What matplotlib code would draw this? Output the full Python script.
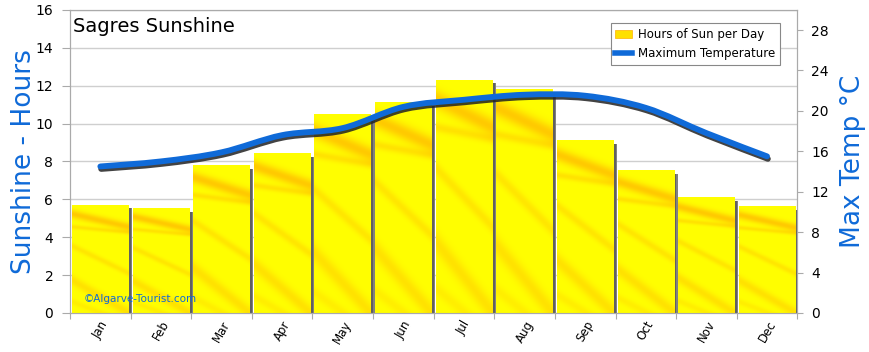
import numpy as np
import matplotlib
matplotlib.use('Agg')
import matplotlib.pyplot as plt
from matplotlib.path import Path
from matplotlib.patches import PathPatch, Rectangle, Patch
from matplotlib.lines import Line2D
import matplotlib.patheffects as pe

months = ['Jan', 'Feb', 'Mar', 'Apr', 'May', 'Jun', 'Jul', 'Aug', 'Sep', 'Oct', 'Nov', 'Dec']
sun_hours = [5.7, 5.5, 7.8, 8.4, 10.5, 11.1, 12.3, 11.8, 9.1, 7.5, 6.1, 5.6]
max_temp = [14.5, 15.0, 15.9, 17.6, 18.3, 20.4, 21.1, 21.6, 21.5, 20.3, 17.8, 15.5]

plt.rcParams['font.family'] = ['DejaVu Sans']
blue = '#0f6ad8'

fig = plt.figure(figsize=(8.7, 3.52), dpi=100)
ax = fig.add_axes([0.0805, 0.111, 0.836, 0.861])
ax2 = ax.twinx()

# streaky yellow texture for bars
ty, tx = np.mgrid[0:1:120j, 0:1:40j]
band = (0.65 * np.exp(-((ty - 0.92 + 0.12 * tx) / 0.04) ** 2)
        + 0.35 * np.exp(-((ty - 0.80 + 0.05 * tx) / 0.02) ** 2)
        + 0.30 * np.exp(-((ty - 0.62 + 0.25 * tx) / 0.03) ** 2)
        + 0.35 * np.exp(-((ty - 0.30 + 0.30 * tx) / 0.05) ** 2)
        + 0.20 * np.exp(-((ty - 0.10 + 0.20 * tx) / 0.03) ** 2))
band = np.clip(band, 0, 1)
tex = np.zeros(band.shape + (3,))
tex[..., 0] = 1.0
tex[..., 1] = 1.0 - 0.32 * band
tex[..., 2] = 0.0

for i, h in enumerate(sun_hours):
    # gray shadow on the right side
    ax.add_patch(Rectangle((i + 0.955, 0), 0.07, h - 0.18, facecolor='#808080',
                           edgecolor='none', zorder=2))
    ax.add_patch(Rectangle((i + 0.97, 0), 0.035, h - 0.18, facecolor='#606060',
                           edgecolor='none', zorder=2))
    ax.imshow(tex, extent=(i + 0.033, i + 0.957, 0, h), origin='lower',
              aspect='auto', zorder=3, interpolation='bilinear')

ax.set_xlim(0, 12)
ax.set_ylim(0, 16)
ax.set_yticks(range(0, 17, 2))
ax.grid(axis='y', color='#cfcfcf', linewidth=1)
ax.set_axisbelow(True)
ax.set_xticks(range(0, 13))
ax.set_xticklabels([])
ax.set_xticks(np.arange(12) + 0.5, minor=True)
ax.set_xticklabels(months, minor=True, rotation=60, fontsize=8.5, ha='center', va='top')
ax.tick_params(axis='x', which='minor', length=0, pad=4)
ax.tick_params(axis='x', which='major', length=4, color='#aaaaaa')
ax.tick_params(axis='y', labelsize=10, length=6, color='#aaaaaa', pad=6)
for s in ax.spines.values():
    s.set_color('#aaaaaa')
ax.set_ylabel('Sunshine - Hours', color=blue, fontsize=19)
ax.yaxis.set_label_coords(-0.045, 0.5)

# smooth temperature curve built from the data points (Catmull-Rom -> Bezier)
xs = np.arange(12) + 0.5
pts = np.column_stack([xs, max_temp])
ext = np.vstack([pts[0], pts, pts[-1]])
verts = [pts[0]]
codes = [Path.MOVETO]
for k in range(1, len(ext) - 2):
    p0, p1, p2, p3 = ext[k - 1], ext[k], ext[k + 1], ext[k + 2]
    verts += [p1 + (p2 - p0) / 6, p2 - (p3 - p1) / 6, p2]
    codes += [Path.CURVE4] * 3
curve = PathPatch(Path(verts, codes), fill=False, edgecolor=blue, linewidth=4.2,
                  capstyle='round', zorder=5,
                  path_effects=[pe.SimpleLineShadow(offset=(0.6, -1.8), shadow_color='#222222',
                                                    alpha=0.85), pe.Normal()])
ax2.add_patch(curve)
ax2.set_ylim(0, 30)
ax2.set_yticks(range(0, 29, 4))
ax2.tick_params(axis='y', labelsize=10, length=4, color='#aaaaaa', pad=6)
for s in ax2.spines.values():
    s.set_color('#aaaaaa')
ax2.set_ylabel('Max Temp °C', color=blue, fontsize=19, labelpad=8)

ax.text(0.004, 0.975, 'Sagres Sunshine', transform=ax.transAxes, fontsize=14,
        ha='left', va='top', zorder=10)
ax.text(0.018, 0.045, '©Algarve-Tourist.com', transform=ax.transAxes, fontsize=7.5,
        color=blue, ha='left', va='center', zorder=10)

handles = [Patch(facecolor='#ffe000', edgecolor='#ffb000', linewidth=0.5),
           Line2D([], [], color=blue, linewidth=4)]
leg = ax2.legend(handles, ['Hours of Sun per Day', 'Maximum Temperature'],
                 loc='upper right', bbox_to_anchor=(0.984, 0.975), fontsize=8.5,
                 fancybox=False, framealpha=1, edgecolor='#888888',
                 handlelength=1.4, borderpad=0.4, labelspacing=0.5, handletextpad=0.5)
leg.get_frame().set_linewidth(0.8)

fig.savefig('out.png', dpi=100)
